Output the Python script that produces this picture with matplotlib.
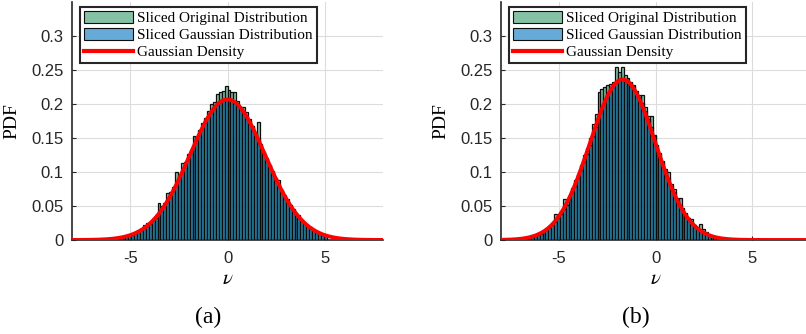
import numpy as np
import matplotlib
matplotlib.use("Agg")
import matplotlib.pyplot as plt
from matplotlib.patches import Patch
from matplotlib.lines import Line2D

plt.rcParams["mathtext.fontset"] = "stix"

# histogram bins (width 0.15), first bin centre of each panel
bin_w = 0.15
a_first = -5.625
b_first = -6.825

# panel (a): sliced original / sliced gaussian bar heights
a_orig = [0.003, 0.004, 0.005, 0.006, 0.008, 0.009, 0.011, 0.013, 0.016, 0.022,
          0.025, 0.026, 0.030, 0.036, 0.054, 0.050, 0.055, 0.069, 0.070, 0.078,
          0.100, 0.094, 0.113, 0.114, 0.126, 0.132, 0.153, 0.150, 0.162, 0.172,
          0.180, 0.190, 0.200, 0.203, 0.215, 0.218, 0.219, 0.227, 0.221, 0.218,
          0.217, 0.205, 0.196, 0.195, 0.188, 0.178, 0.168, 0.158, 0.174, 0.141,
          0.130, 0.121, 0.110, 0.101, 0.091, 0.088, 0.074, 0.066, 0.060, 0.052,
          0.045, 0.039, 0.037, 0.030, 0.025, 0.021, 0.019, 0.015, 0.012, 0.010,
          0.008, 0.006]
a_gauss = [0.002, 0.003, 0.004, 0.005, 0.007, 0.008, 0.010, 0.012, 0.015, 0.017,
           0.021, 0.024, 0.029, 0.033, 0.039, 0.045, 0.051, 0.058, 0.065, 0.073,
           0.082, 0.091, 0.100, 0.109, 0.120, 0.129, 0.139, 0.149, 0.158, 0.166,
           0.176, 0.183, 0.190, 0.195, 0.201, 0.204, 0.207, 0.208, 0.207, 0.206,
           0.205, 0.200, 0.196, 0.190, 0.183, 0.175, 0.167, 0.158, 0.148, 0.139,
           0.129, 0.119, 0.110, 0.100, 0.091, 0.082, 0.073, 0.065, 0.058, 0.051,
           0.044, 0.039, 0.033, 0.029, 0.024, 0.021, 0.017, 0.015, 0.012, 0.010,
           0.008, 0.007]

# panel (b)
b_orig = [0.002, 0.003, 0.004, 0.007, 0.008, 0.010, 0.012, 0.013, 0.016, 0.020,
          0.023, 0.038, 0.035, 0.042, 0.060, 0.058, 0.065, 0.077, 0.088, 0.097,
          0.110, 0.125, 0.135, 0.150, 0.170, 0.185, 0.218, 0.222, 0.225, 0.228,
          0.230, 0.232, 0.255, 0.247, 0.254, 0.243, 0.238, 0.232, 0.228, 0.215,
          0.213, 0.213, 0.195, 0.183, 0.182, 0.155, 0.140, 0.128, 0.116, 0.104,
          0.100, 0.082, 0.075, 0.062, 0.062, 0.047, 0.040, 0.032, 0.031, 0.022,
          0.018, 0.024, 0.016, 0.012, 0.008, 0.006, 0.004, 0.003, 0.002]
b_gauss = [0.002, 0.003, 0.003, 0.005, 0.006, 0.007, 0.009, 0.012, 0.014, 0.018,
           0.022, 0.026, 0.032, 0.038, 0.045, 0.052, 0.061, 0.070, 0.080, 0.091,
           0.103, 0.115, 0.127, 0.140, 0.153, 0.166, 0.178, 0.190, 0.201, 0.210,
           0.219, 0.226, 0.232, 0.235, 0.237, 0.237, 0.235, 0.231, 0.226, 0.219,
           0.210, 0.201, 0.190, 0.178, 0.166, 0.153, 0.140, 0.127, 0.115, 0.103,
           0.091, 0.080, 0.070, 0.061, 0.052, 0.045, 0.038, 0.032, 0.026, 0.022,
           0.018, 0.015, 0.012, 0.009, 0.007, 0.006, 0.005, 0.003, 0.002]

# fitted gaussian density (mean, std)
a_mu, a_sigma = 0.0, 1.93
b_mu, b_sigma = -1.7, 1.69

panels = [
    ("(a)", a_first, a_orig, a_gauss, a_mu, a_sigma),
    ("(b)", b_first, b_orig, b_gauss, b_mu, b_sigma),
]

serif = "Liberation Serif"
sans = "Liberation Sans"
green = (0.2, 0.6, 0.415, 0.6)
blue = (0.0, 0.447, 0.741, 0.6)
edge = "#0d0d0d"

fig = plt.figure(figsize=(8.06, 3.34), dpi=100)
rects = [[72 / 806, 94 / 334, 311 / 806, 238 / 334],
         [501 / 806, 94 / 334, 309 / 806, 238 / 334]]
label_x = [208 / 806, 636 / 806]

for (tag, first, orig, gauss, mu, sigma), rect, lx in zip(panels, rects, label_x):
    ax = fig.add_axes(rect)
    centres = first + bin_w * np.arange(len(orig))
    ax.bar(centres, orig, width=bin_w, color=green,
           edgecolor=edge, linewidth=0.9, zorder=2)
    ax.bar(centres, gauss, width=bin_w, color=blue,
           edgecolor=edge, linewidth=0.9, zorder=3)
    xs = np.linspace(-8, 8, 400)
    pdf = np.exp(-(xs - mu) ** 2 / (2 * sigma ** 2)) / (sigma * np.sqrt(2 * np.pi))
    ax.plot(xs, pdf, color="red", lw=2.8, zorder=4)

    ax.set_xlim(-8, 8)
    ax.set_ylim(0, 0.35)
    ax.set_xticks([-5, 0, 5])
    ax.set_xticklabels(["-5", "0", "5"])
    ax.set_yticks([0, 0.05, 0.1, 0.15, 0.2, 0.25, 0.3])
    ax.set_yticklabels(["0", "0.05", "0.1", "0.15", "0.2", "0.25", "0.3"])
    for lab in ax.get_xticklabels() + ax.get_yticklabels():
        lab.set_fontfamily(sans)
        lab.set_fontsize(12)
        lab.set_color("#262626")
    ax.tick_params(direction="in", length=3, width=0.8, colors="#262626",
                   labelcolor="#262626", pad=6)
    ax.tick_params(axis="x", pad=8)
    ax.grid(True, color="#dcdcdc", lw=0.8, zorder=0)
    ax.set_axisbelow(True)
    for s in ["top", "right"]:
        ax.spines[s].set_visible(False)
    for s in ["left", "bottom"]:
        ax.spines[s].set_color("#262626")
        ax.spines[s].set_linewidth(1.2)

    ax.set_ylabel("PDF", fontfamily=serif, fontsize=14, labelpad=8)
    ax.set_xlabel(r"$\nu$", fontsize=15, labelpad=1)

    handles = [Patch(facecolor=green, edgecolor=edge, lw=0.8),
               Patch(facecolor=blue, edgecolor=edge, lw=0.8),
               Line2D([], [], color="red", lw=3)]
    leg = ax.legend(handles, ["Sliced Original Distribution",
                              "Sliced Gaussian Distribution",
                              "Gaussian Density"],
                    loc="upper left", bbox_to_anchor=(8 / 311, 1 - 5 / 238),
                    borderaxespad=0, prop={"family": serif, "size": 11},
                    handlelength=3.2, handleheight=0.8, handletextpad=0.3,
                    labelspacing=0.2, borderpad=0.25, fancybox=False,
                    framealpha=1)
    leg.get_frame().set_edgecolor("#262626")
    leg.get_frame().set_linewidth(1.5)

    fig.text(lx, 17 / 334, tag, ha="center", va="center",
             fontfamily=serif, fontsize=17)

fig.savefig("out.png", dpi=100)
